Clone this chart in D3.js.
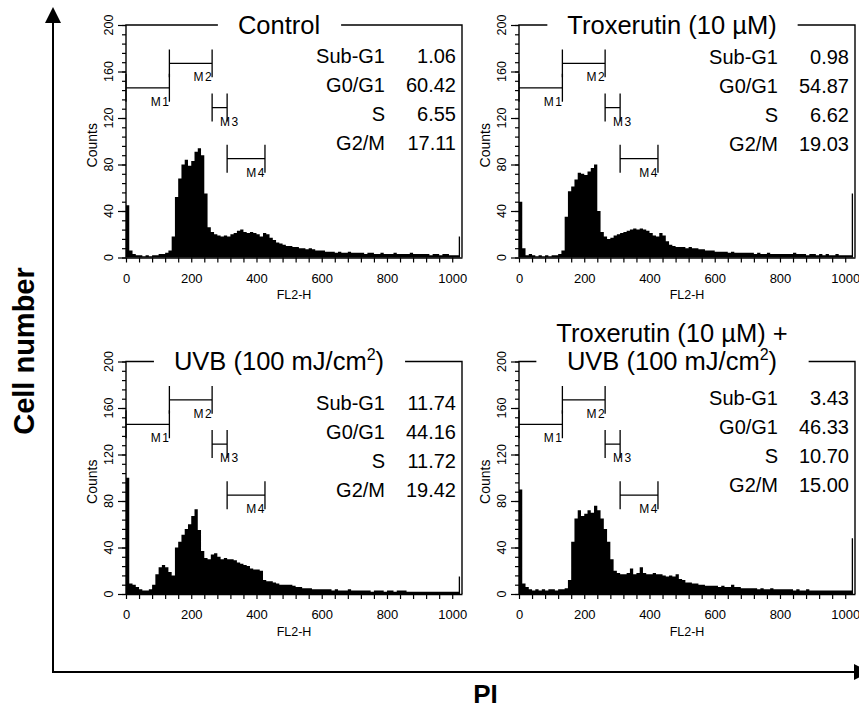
<!DOCTYPE html>
<html>
<head>
<meta charset="utf-8">
<script src="https://cdn.jsdelivr.net/npm/d3@7"></script>
<style>
  body { margin: 0; background: #fff; }
  svg { display: block; font-family: "Liberation Sans", Arial, sans-serif; }
</style>
</head>
<body>
<svg id="chart" width="859" height="710"></svg>
<script>
// FL2-H histograms, counts per 10-channel bin (0..1029)
const binWidth = 10;
const chanMax = 1030;

const controlCounts = [45, 6,
  3, 2, 2, 1, 2, 1, 2, 2, 3, 3, 4, 6,
  18, 52, 68, 80, 84, 79, 83, 91, 94, 88, 55, 26,
  22, 20, 19, 18, 19, 18, 20, 21, 23, 24, 22, 21, 22, 21, 20, 18, 21, 20, 17, 15,
  13, 12, 11, 10, 10, 9, 9, 8, 8, 7, 8, 7, 6, 6, 6, 5,
  5, 5, 4, 5, 4, 4, 5, 4, 4,
  4, 4, 3, 4, 4, 3, 3, 4, 3, 3,
  3, 4, 3, 3, 3, 3, 4, 3, 3, 3,
  3, 3, 2, 3, 3, 2, 3, 3, 2, 2, 2,
  18];

const troxCounts = [48, 8,
  2, 3, 2, 1, 2, 1, 2, 1, 2, 2, 3,
  6,
  35, 57, 61, 67, 73, 72, 71, 74, 77, 80, 40, 22, 18, 16,
  17, 19, 20, 21, 22, 23, 24, 25, 24, 25, 24, 23, 21, 19, 18, 21, 19, 14,
  11, 10, 9, 9, 9, 8, 9, 8, 8, 7, 7, 6, 6, 6, 5,
  5, 5, 5, 4, 5, 4, 4, 4, 4, 4,
  4, 3, 4, 3, 3, 4, 3, 3, 3, 3,
  3, 3, 3, 4, 3, 3, 3, 2, 3, 3,
  2, 3, 2, 3, 2, 2, 3, 2, 2, 2, 2,
  55];

const uvbCounts = [100, 9, 8, 6, 4, 3, 3, 4, 8, 17, 23, 25, 23, 19, 16,
  40, 45, 51, 56, 60, 67, 73, 55, 37, 31,
  30, 34, 35, 32, 30, 31, 30, 30, 29, 27, 26, 25, 24, 22, 21, 21, 20,
  12, 11, 11, 10, 9, 8, 8, 8, 8, 7, 6, 6, 5, 5, 5, 4, 4, 4,
  4, 4, 4, 3, 4, 3, 3, 3, 4, 3, 3,
  3, 3, 3, 3, 2, 3, 3, 3, 2, 3,
  3, 2, 3, 3, 3, 2, 2, 2, 2, 2,
  2, 2, 2, 2, 2, 2, 2, 2, 2, 2, 2,
  15];

const comboCounts = [90, 9, 6, 4, 3, 4, 3, 4, 3, 4, 4, 3, 4, 4, 5, 12,
  45, 65, 72, 67, 69, 72, 70, 76, 72, 65, 56, 45, 30, 20, 18,
  17, 17, 18, 22, 17, 18, 23, 18, 17, 17, 18, 17, 17, 16, 15, 16, 15, 17, 13, 12,
  10, 10, 9, 9, 8, 8, 7, 7, 7, 7, 6, 7, 6, 6, 8, 6, 6, 5, 5, 5,
  5, 5, 4, 5, 4, 4, 5, 4, 4, 4,
  4, 4, 4, 3, 4, 3, 3, 4, 3, 3,
  3, 3, 3, 3, 3, 3, 3, 3, 3, 3, 3,
  48];

const panelTitles = [
  ["Control"],
  ["Troxerutin (10 µM)"],
  ["UVB (100 mJ/cm²)"],
  ["Troxerutin (10 µM) +", "UVB (100 mJ/cm²)"]
];

const phaseLabels = ["Sub-G1", "G0/G1", "S", "G2/M"];
const controlPct = [1.06, 60.42, 6.55, 17.11];
const troxPct = [0.98, 54.87, 6.62, 19.03];
const uvbPct = [11.74, 44.16, 11.72, 19.42];
const comboPct = [3.43, 46.33, 10.70, 15.00];

// gates (FL2-H channels) and the count level they are drawn at
const markerNames = ["M1", "M2", "M3", "M4"];
const markerFrom = [0, 133, 264, 310];
const markerTo = [133, 264, 310, 426];
const markerLevel = [146, 167, 129, 85];

const xTickLabels = [0, 200, 400, 600, 800, 1000];
const yTickLabels = [0, 40, 80, 120, 160, 200];

const histograms = [controlCounts, troxCounts, uvbCounts, comboCounts];
const percents = [controlPct, troxPct, uvbPct, comboPct];

// panel placement
const panelW = 336, panelH = 232.5;
const layout = [
  { x: 126, y: 25, stats: 37.5 },
  { x: 519, y: 25, stats: 38.5 },
  { x: 126, y: 361.5, stats: 48.5 },
  { x: 519, y: 361.5, stats: 43.5 }
];

const svg = d3.select("#chart");
const ink = "#000";

layout.forEach((p, k) => {
  const x = d3.scaleLinear().domain([0, chanMax]).range([p.x, p.x + panelW]);
  const y = d3.scaleLinear().domain([0, 200]).range([p.y + panelH, p.y]);
  const g = svg.append("g");

  // histogram
  const bins = histograms[k].map((c, i) => ({ ch: i * binWidth, c }));
  bins.push({ ch: 1024, c: histograms[k][histograms[k].length - 1] });
  const area = d3.area()
    .curve(d3.curveStepAfter)
    .x(d => x(d.ch))
    .y0(y(0))
    .y1(d => y(d.c));
  g.append("path").datum(bins).attr("d", area).attr("fill", ink);

  // x axis
  const xAxis = d3.axisBottom(x)
    .tickValues(d3.range(0, 1001, 40))
    .tickSize(5)
    .tickSizeOuter(0)
    .tickFormat(d => xTickLabels.includes(d) ? d : "");
  const gx = g.append("g").attr("transform", `translate(0,${y(0)})`).call(xAxis);
  gx.select(".domain").attr("stroke-width", 1.4);
  gx.selectAll(".tick line").attr("stroke-width", 1.2);
  gx.selectAll("text").attr("y", 25).attr("dy", null)
    .attr("font-size", 13).attr("font-family", "Liberation Sans, Arial, sans-serif");

  g.append("text")
    .attr("x", p.x + panelW / 2).attr("y", y(0) + 41.5)
    .attr("text-anchor", "middle").attr("font-size", 12.5)
    .text("FL2-H");

  // y axis: minor and major ticks, rotated labels
  const yMinor = d3.axisLeft(y).tickValues(d3.range(0, 201, 8)).tickSize(4).tickFormat("");
  const gy = g.append("g").attr("transform", `translate(${p.x},0)`).call(yMinor);
  gy.select(".domain").remove();
  gy.selectAll(".tick line").attr("stroke-width", 1.2);
  const yMajor = d3.axisLeft(y).tickValues(yTickLabels).tickSize(8).tickFormat("");
  const gy2 = g.append("g").attr("transform", `translate(${p.x},0)`).call(yMajor);
  gy2.select(".domain").remove();
  gy2.selectAll(".tick line").attr("stroke-width", 1.2);

  g.selectAll("text.ylab").data(yTickLabels).join("text")
    .attr("class", "ylab")
    .attr("transform", d => `translate(${p.x - 13},${y(d)}) rotate(-90)`)
    .attr("text-anchor", "middle").attr("font-size", 12.5)
    .text(d => d);

  g.append("text")
    .attr("transform", `translate(${p.x - 29},${p.y + panelH / 2 + 4}) rotate(-90)`)
    .attr("text-anchor", "middle").attr("font-size", 14)
    .text("Counts");

  // title (may contain a superscript 2)
  const title = g.append("g");
  const lines = panelTitles[k];
  lines.forEach((line, li) => {
    const t = title.append("text")
      .attr("x", p.x + 153)
      .attr("y", p.y + 8.8 - (lines.length - 1 - li) * 28)
      .attr("text-anchor", "middle")
      .attr("font-size", 25.5);
    const parts = line.split("²");
    t.append("tspan").text(parts[0]);
    if (parts.length > 1) {
      t.append("tspan").attr("font-size", 16).attr("dy", -10).text("2");
      t.append("tspan").attr("dy", 10).text(parts[1]);
    }
  });
  const bb = title.node().getBBox();
  const gapL = bb.x - 20, gapR = bb.x + bb.width + 21;

  // frame with a break under the title
  const frame = d3.path();
  frame.moveTo(p.x, y(0));
  frame.lineTo(p.x, p.y);
  frame.lineTo(gapL, p.y);
  frame.moveTo(gapR, p.y);
  frame.lineTo(p.x + panelW, p.y);
  frame.lineTo(p.x + panelW, y(0));
  g.append("path").attr("d", frame.toString())
    .attr("fill", "none").attr("stroke", ink).attr("stroke-width", 1.4);

  // gates M1..M4
  markerNames.forEach((name, i) => {
    const x1 = x(markerFrom[i]), x2 = x(markerTo[i]), yy = y(markerLevel[i]);
    const half = y(0) - y(12);
    const m = d3.path();
    m.moveTo(x1, yy); m.lineTo(x2, yy);
    m.moveTo(x1, yy - half); m.lineTo(x1, yy + half);
    m.moveTo(x2, yy - half); m.lineTo(x2, yy + half);
    g.append("path").attr("d", m.toString())
      .attr("fill", "none").attr("stroke", ink).attr("stroke-width", 1.3);
    const lab = g.append("text")
      .attr("y", yy + 18)
      .attr("text-anchor", "end")
      .attr("font-size", 12).attr("letter-spacing", 1.5)
      .text(name);
    const w = lab.node().getComputedTextLength();
    lab.attr("x", Math.max(x2 + 1, x1 + 8 + w));
  });

  // phase percentages
  phaseLabels.forEach((lbl, i) => {
    const yy = p.y + p.stats + i * 29;
    g.append("text").attr("x", p.x + 259).attr("y", yy)
      .attr("text-anchor", "end").attr("font-size", 20).text(lbl);
    g.append("text").attr("x", p.x + 330).attr("y", yy)
      .attr("text-anchor", "end").attr("font-size", 20)
      .text(percents[k][i].toFixed(2));
  });
});

// outer axes with arrows
const outer = svg.append("g");
outer.append("line").attr("x1", 53).attr("y1", 672).attr("x2", 53).attr("y2", 20)
  .attr("stroke", ink).attr("stroke-width", 2);
outer.append("path").attr("d", "M53,7 L45,23 L61,23 Z").attr("fill", ink);
outer.append("line").attr("x1", 52).attr("y1", 672).attr("x2", 856).attr("y2", 672)
  .attr("stroke", ink).attr("stroke-width", 2);
outer.append("path").attr("d", "M870,672 L854,664 L854,680 Z").attr("fill", ink);

outer.append("text")
  .attr("transform", "translate(34,351) rotate(-90)")
  .attr("text-anchor", "middle").attr("font-size", 29).attr("font-weight", "bold")
  .text("Cell number");
outer.append("text")
  .attr("x", 485.5).attr("y", 703)
  .attr("text-anchor", "middle").attr("font-size", 26).attr("font-weight", "bold")
  .text("PI");
</script>
</body>
</html>
